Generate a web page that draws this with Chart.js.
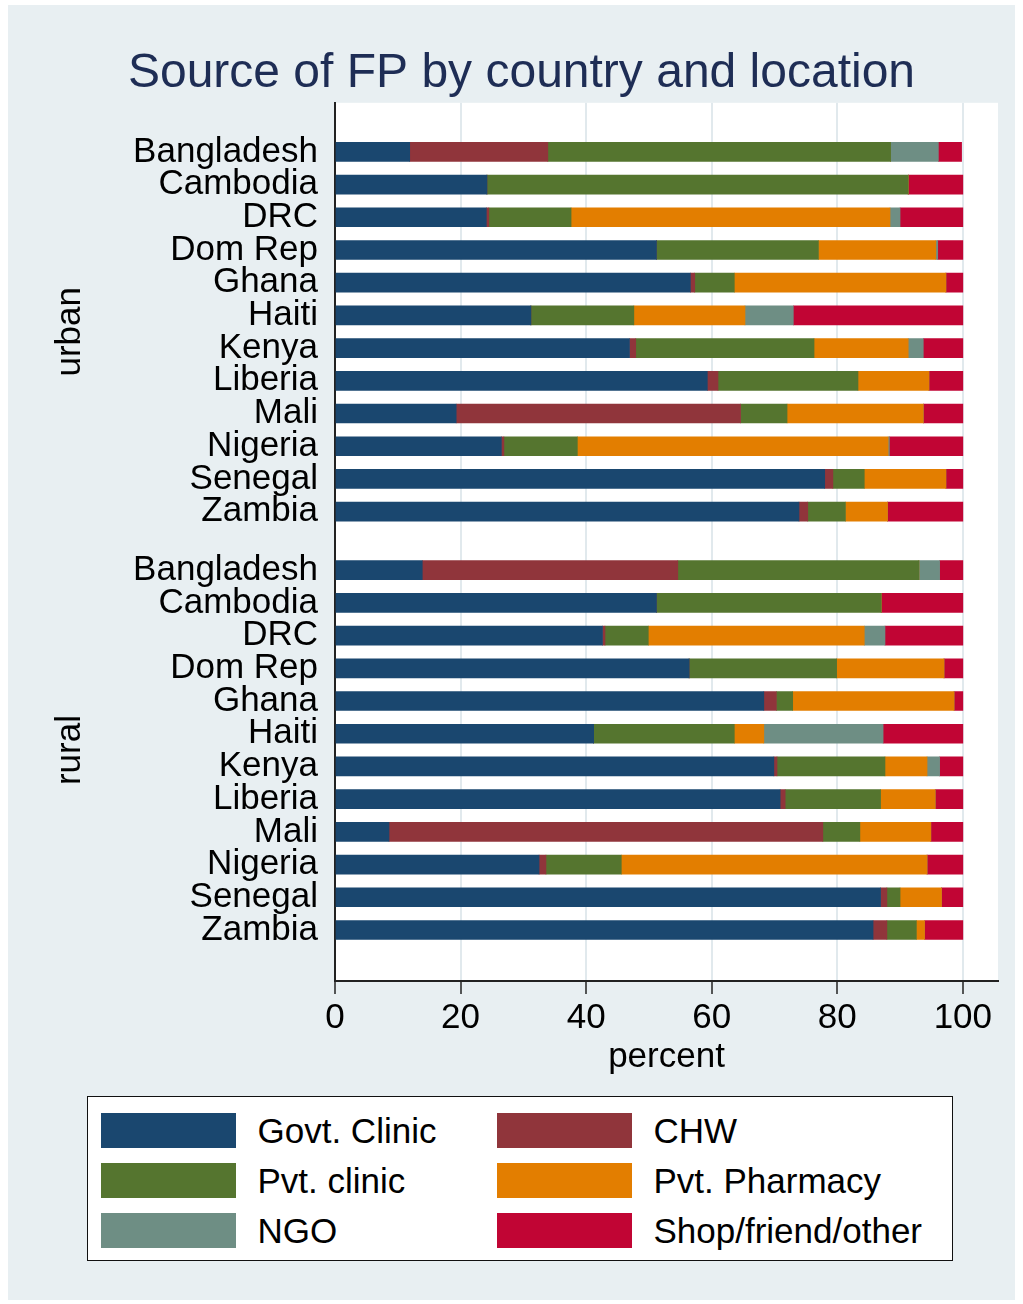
<!DOCTYPE html>
<html>
<head>
<meta charset="utf-8">
<title>Source of FP by country and location</title>
<script src="https://cdn.jsdelivr.net/npm/chart.js@4.4.1/dist/chart.umd.min.js"></script>
<style>
  body { margin: 0; background: #fff; font-family: 'Liberation Sans', Arial, Helvetica, sans-serif; }
  #frame { position: absolute; left: 8px; top: 5px; width: 1007px; height: 1295px; background: #e8eff2; }
  #wrap { position: absolute; left: 0; top: 0; width: 1023px; height: 1084px; }
  #legend { position: absolute; left: 87px; top: 1096px; width: 864px; height: 163px; background: #fff; border: 1.5px solid #111; }
  .item { position: absolute; display: flex; align-items: center; font-size: 35px; color: #000; white-space: nowrap; }
  .swatch { width: 135px; height: 35px; margin-right: 22px; }
</style>
</head>
<body>
<div id="frame"></div>
<div id="wrap"><canvas id="fpChart"></canvas></div>
<div id="legend"></div>

<script>
// countries, same order in both groups
const countries = ['Bangladesh', 'Cambodia', 'DRC', 'Dom Rep', 'Ghana', 'Haiti',
  'Kenya', 'Liberia', 'Mali', 'Nigeria', 'Senegal', 'Zambia'];
const groups = ['urban', 'rural'];
const xTicks = [0, 20, 40, 60, 80, 100];

// percent by source: first 12 = urban, next 12 = rural
const govtClinic = [11.9, 24.2, 24.1, 51.2, 56.6, 31.2, 46.9, 59.3, 19.3, 26.5, 78.0, 73.9,
                    13.9, 51.2, 42.6, 56.4, 68.3, 41.2, 69.9, 70.9, 8.6, 32.5, 86.9, 85.7];
const chw =        [22.0, 0, 0.4, 0, 0.7, 0, 1.0, 1.7, 45.3, 0.4, 1.3, 1.4,
                    40.7, 0, 0.4, 0, 2.0, 0, 0.5, 0.8, 69.1, 1.1, 1.0, 2.2];
const pvtClinic =  [54.6, 67.1, 13.1, 25.8, 6.3, 16.4, 28.4, 22.3, 7.4, 11.7, 5.0, 6.0,
                    38.4, 35.8, 6.9, 23.5, 2.6, 22.4, 17.2, 15.2, 5.9, 12.0, 2.1, 4.7];
const pvtPharmacy = [0, 0, 50.8, 18.7, 33.7, 17.7, 15.0, 11.3, 21.7, 49.5, 13.0, 6.7,
                    0, 0, 34.4, 17.1, 25.7, 4.7, 6.7, 8.7, 11.3, 48.7, 6.6, 1.3];
const ngo =        [7.6, 0, 1.6, 0.3, 0, 7.7, 2.4, 0, 0, 0.2, 0, 0,
                    3.3, 0, 3.3, 0, 0, 19.0, 2.0, 0, 0, 0, 0, 0];
const shopOther =  [3.7, 8.7, 10.0, 4.0, 2.7, 27.0, 6.3, 5.4, 6.3, 11.7, 2.7, 12.0,
                    3.7, 13.0, 12.4, 3.0, 1.4, 12.7, 3.7, 4.4, 5.1, 5.7, 3.4, 6.1];

Chart.defaults.font.family = "'Liberation Sans', Arial, Helvetica, sans-serif";

// row slots on the y axis: one per country, with a smaller gap between the groups
const groupGap = 1.79;
const rowNames = [...countries, ...countries];
const rowPos = rowNames.map((_, i) => i < 12 ? i : i - 1 + groupGap);

function makeSet(label, values, color) {
  return {
    label: label,
    data: values.map((v, i) => ({ x: v, y: rowPos[i] })),
    backgroundColor: color,
    borderWidth: 0,
    barThickness: 19
  };
}

const plotBackground = {
  id: 'plotBackground',
  beforeDraw(chart) {
    const { ctx, chartArea: a } = chart;
    ctx.save();
    ctx.fillStyle = '#fff';
    ctx.fillRect(a.left, a.top, a.right - a.left, a.bottom - a.top);
    ctx.restore();
  }
};

const groupLabels = {
  id: 'groupLabels',
  afterDraw(chart) {
    const ctx = chart.ctx;
    const y = chart.scales.y;
    groups.forEach((g, k) => {
      const mid = (y.getPixelForValue(rowPos[k * 12]) + y.getPixelForValue(rowPos[k * 12 + 11])) / 2;
      ctx.save();
      ctx.translate(70, mid);
      ctx.rotate(-Math.PI / 2);
      ctx.fillStyle = '#000';
      ctx.font = "35px 'Liberation Sans', Arial, sans-serif";
      ctx.textAlign = 'center';
      ctx.textBaseline = 'middle';
      ctx.fillText(g, 0, 0);
      ctx.restore();
    });
  }
};

const ctx = document.getElementById('fpChart').getContext('2d');
const chart = new Chart(ctx, {
  type: 'bar',
  data: {
    datasets: [
      makeSet('Govt. Clinic', govtClinic, '#1a476f'),
      makeSet('CHW', chw, '#90353b'),
      makeSet('Pvt. clinic', pvtClinic, '#55752f'),
      makeSet('Pvt. Pharmacy', pvtPharmacy, '#e37e00'),
      makeSet('NGO', ngo, '#6e8e84'),
      makeSet('Shop/friend/other', shopOther, '#c10534')
    ]
  },
  options: {
    indexAxis: 'y',
    responsive: true,
    maintainAspectRatio: false,
    animation: false,
    layout: { padding: { left: 45, right: 25, top: 0, bottom: 0 } },
    plugins: {
      legend: { display: false },
      tooltip: { enabled: false },
      title: {
        display: true,
        text: 'Source of FP by country and location',
        color: '#1e2d55',
        font: { size: 48, weight: 'normal', lineHeight: 1.1 },
        padding: { top: 47, bottom: 3 }
      }
    },
    scales: {
      x: {
        stacked: true,
        bounds: 'data',
        min: 0,
        max: 105.6,
        afterFit: s => { s.height = 103; },
        afterBuildTicks: s => { s.ticks = xTicks.map(v => ({ value: v })); },
        grid: { color: '#e1e9ed', lineWidth: 2, tickColor: '#222', tickLength: 13, tickWidth: 1.5 },
        border: { color: '#222', width: 2 },
        ticks: { font: { size: 35 }, color: '#000', padding: 3, maxRotation: 0 },
        title: {
          display: true, text: 'percent', color: '#000',
          font: { size: 35, lineHeight: 1 }, padding: { top: 0, bottom: 9 }
        }
      },
      y: {
        type: 'linear',
        stacked: true,
        reverse: true,
        offset: false,
        bounds: 'data',
        min: -1.5,
        max: 11 + groupGap + 11 + 1.56,
        afterFit: s => { s.width = 290; },
        afterBuildTicks: s => { s.ticks = rowPos.map(v => ({ value: v })); },
        grid: { display: true, drawOnChartArea: false, drawTicks: false },
        border: { display: true, color: '#222', width: 2 },
        ticks: {
          font: { size: 35 }, color: '#000', padding: 17, autoSkip: false,
          callback: (value, index) => rowNames[index]
        }
      }
    }
  },
  plugins: [plotBackground, groupLabels]
});

// legend in two columns, built from the datasets
const legendBox = document.getElementById('legend');
chart.data.datasets.forEach((ds, i) => {
  const item = document.createElement('div');
  item.className = 'item';
  item.style.left = (12.5 + (i % 2) * 396) + 'px';
  item.style.top = (13.5 + Math.floor(i / 2) * 50) + 'px';
  const sw = document.createElement('span');
  sw.className = 'swatch';
  sw.style.background = ds.backgroundColor;
  const txt = document.createElement('span');
  txt.textContent = ds.label;
  item.appendChild(sw);
  item.appendChild(txt);
  legendBox.appendChild(item);
});
</script>
</body>
</html>
